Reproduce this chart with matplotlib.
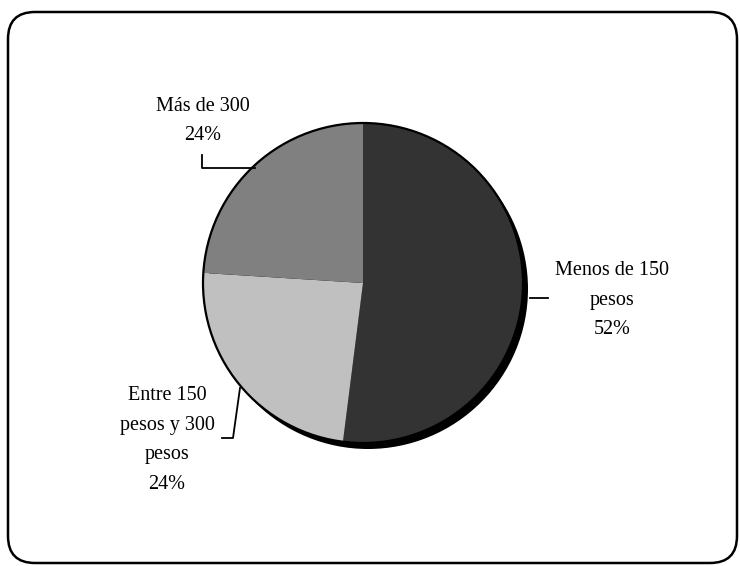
import matplotlib
matplotlib.use("Agg")
import matplotlib.pyplot as plt
from matplotlib.patches import FancyBboxPatch, Circle

# Distribution of spending
categories = ["Menos de 150\npesos", "Entre 150\npesos y 300\npesos", "Más de 300"]
values = [52, 24, 24]
colors = ["#333333", "#c0c0c0", "#808080"]

W, H = 740, 566
fig = plt.figure(figsize=(W / 100, H / 100), dpi=100)
ax = fig.add_axes([0, 0, 1, 1])

cx, cy, r = 363, H - 283, 160

# drop shadow beneath the pie
ax.add_patch(Circle((cx + 5, cy - 6), r, facecolor="black", edgecolor="none", zorder=1))

wedges, _ = ax.pie(values, colors=colors, startangle=90, counterclock=False,
                   center=(cx, cy), radius=r,
                   wedgeprops=dict(edgecolor="none", zorder=2))
for w in wedges:
    w.set_zorder(2)
ax.add_patch(Circle((cx, cy), r, facecolor="none", edgecolor="black", lw=1.6, zorder=3))

# rounded frame
frame = FancyBboxPatch((8, H - 563), 729, 551,
                       boxstyle="round,pad=0,rounding_size=27",
                       facecolor="none", edgecolor="black", lw=1.8, zorder=4)
ax.add_patch(frame)

font = dict(family=["Liberation Serif", "DejaVu Serif"], fontsize=14.5,
            ha="center", va="center", linespacing=1.75, color="black")

labels = [f"{c}\n{v}%" for c, v in zip(categories, values)]
ax.text(612, H - 300, labels[0], **font)
ax.text(167, H - 440, labels[1], **font)
ax.text(203, H - 121, labels[2], **font)

# leader lines
lk = dict(color="black", lw=1.3, zorder=5)
ax.plot([530, 548], [H - 298, H - 298], **lk)
ax.plot([222, 233, 240], [H - 438, H - 438, H - 388], **lk)
ax.plot([202, 202, 255], [H - 155, H - 168, H - 168], **lk)

ax.set_xlim(0, W)
ax.set_ylim(0, H)
ax.set_aspect("auto")
ax.axis("off")

fig.savefig("out.png", dpi=100, facecolor="white")
